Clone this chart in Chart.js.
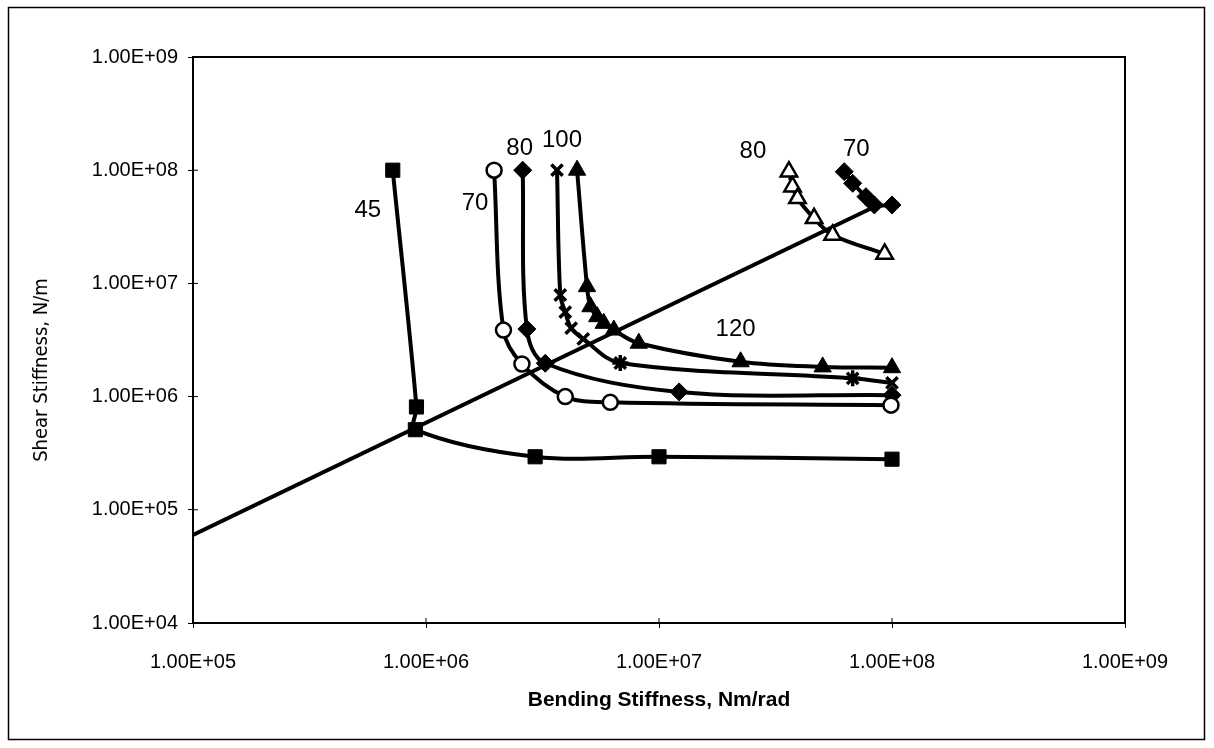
<!DOCTYPE html>
<html>
<head>
<meta charset="utf-8">
<script src="https://cdn.jsdelivr.net/npm/chart.js@4"></script>
<style>
  html, body { margin: 0; padding: 0; background: #fff; }
</style>
</head>
<body>
<canvas id="chart" width="1214" height="748"></canvas>
<script>
// tick values and labels
const xTicks = [1e5, 1e6, 1e7, 1e8, 1e9];
const xTickLabels = ['1.00E+05', '1.00E+06', '1.00E+07', '1.00E+08', '1.00E+09'];
const yTicks = [1e4, 1e5, 1e6, 1e7, 1e8, 1e9];
const yTickLabels = ['1.00E+04', '1.00E+05', '1.00E+06', '1.00E+07', '1.00E+08', '1.00E+09'];

// curve labels
const seriesNames = ['45', '70', '80', '100', '120', '80', '70'];

// 45 - filled squares
const s45X = [7.2e5, 9.1e5, 9.0e5, 2.94e6, 1.0e7, 1.0e8];
const s45Y = [1.0e8, 8.1e5, 5.1e5, 2.94e5, 2.94e5, 2.8e5];

// 70 - open circles
const s70X = [1.96e6, 2.15e6, 2.58e6, 3.96e6, 6.18e6, 9.9e7];
const s70Y = [1.0e8, 3.87e6, 1.94e6, 1.0e6, 8.9e5, 8.4e5];

// 80 - filled diamonds
const s80X = [2.6e6, 2.71e6, 3.25e6, 1.22e7, 1.0e8];
const s80Y = [1.0e8, 3.95e6, 1.97e6, 1.1e6, 1.03e6];

// 100 - crosses / asterisks
const s100X = [3.65e6, 3.77e6, 3.96e6, 4.2e6, 4.73e6, 6.82e6, 6.78e7, 1.0e8];
const s100Y = [1.0e8, 7.9e6, 5.58e6, 4.03e6, 3.23e6, 1.98e6, 1.45e6, 1.32e6];
const s100Marks = ['crossRot', 'crossRot', 'crossRot', 'crossRot', 'crossRot', 'star', 'star', 'crossRot'];

// 120 - filled triangles
const s120X = [4.45e6, 4.91e6, 5.08e6, 5.43e6, 5.79e6, 6.4e6, 8.19e6, 2.24e7, 5.04e7, 1.0e8];
const s120Y = [1.0e8, 9.36e6, 6.22e6, 5.08e6, 4.44e6, 3.87e6, 2.96e6, 2.03e6, 1.83e6, 1.8e6];

// 80 (right group) - open triangles
const r80X = [3.61e7, 3.74e7, 3.93e7, 4.63e7, 5.56e7, 9.3e7];
const r80Y = [9.7e7, 7.15e7, 5.65e7, 3.76e7, 2.68e7, 1.82e7];

// 70 (right group) - filled diamonds
const r70X = [6.24e7, 6.78e7, 7.73e7, 8.4e7, 1.0e8];
const r70Y = [9.7e7, 7.66e7, 5.84e7, 4.93e7, 4.93e7];

// straight reference line
const diagX = [1.0e5, 8.5e7];
const diagY = [6.0e4, 4.8e7];

const pts = (xs, ys) => xs.map((x, i) => ({ x, y: ys[i] }));

function curve(label, xs, ys, style, filled, radius) {
  return {
    label,
    data: pts(xs, ys),
    showLine: true,
    tension: 0.35,
    borderColor: '#000',
    borderWidth: 4,
    pointStyle: style,
    pointRadius: radius,
    pointBorderColor: '#000',
    pointBackgroundColor: filled ? '#000' : '#fff',
    pointBorderWidth: filled ? 1 : 2.5,
  };
}

const datasets = [
  curve(seriesNames[0], s45X, s45Y, 'rect', true, 10),
  curve(seriesNames[1], s70X, s70Y, 'circle', false, 7.5),
  curve(seriesNames[2], s80X, s80Y, 'rectRot', true, 9),
  Object.assign(curve(seriesNames[3], s100X, s100Y, s100Marks, false, 8), { pointBorderWidth: 3.5 }),
  curve(seriesNames[4], s120X, s120Y, 'triangle', true, 10),
  curve(seriesNames[5], r80X, r80Y, 'triangle', false, 9.5),
  curve(seriesNames[6], r70X, r70Y, 'rectRot', true, 9),
  {
    label: 'line',
    data: pts(diagX, diagY),
    showLine: true,
    borderColor: '#000',
    borderWidth: 4,
    pointRadius: 0,
  },
];

// where each curve's number sits: [dataset, point, dx, dy]
const labelSpots = [
  [0, 0, -25, 40],
  [1, 0, -19, 33],
  [2, 0, -3, -22],
  [3, 0, 5, -30],
  [4, 7, -5, -32],
  [5, 0, -36, -20],
  [6, 0, 12, -22],
];

const decor = {
  id: 'decor',
  beforeDraw(chart) {
    const { ctx } = chart;
    ctx.save();
    ctx.fillStyle = '#fff';
    ctx.fillRect(0, 0, chart.width, chart.height);
    ctx.strokeStyle = '#000';
    ctx.lineWidth = 1.5;
    ctx.strokeRect(8.5, 7.5, 1196, 732);
    ctx.restore();
  },
  afterDatasetsDraw(chart) {
    const { ctx } = chart;
    ctx.save();
    ctx.fillStyle = '#000';
    ctx.font = '24px "Liberation Sans", Arial, sans-serif';
    ctx.textAlign = 'center';
    ctx.textBaseline = 'middle';
    labelSpots.forEach(([di, pi, dx, dy]) => {
      const el = chart.getDatasetMeta(di).data[pi];
      ctx.fillText(chart.data.datasets[di].label, el.x + dx, el.y + dy);
    });
    ctx.restore();
  },
  afterDraw(chart) {
    const { ctx, chartArea: a, scales } = chart;
    ctx.save();
    ctx.strokeStyle = '#000';
    ctx.lineWidth = 2;
    ctx.strokeRect(a.left, a.top, a.right - a.left, a.bottom - a.top);
    // inner half of the tick marks
    ctx.lineWidth = 1;
    xTicks.forEach((v) => {
      const x = scales.x.getPixelForValue(v);
      ctx.beginPath(); ctx.moveTo(x, a.bottom); ctx.lineTo(x, a.bottom - 5); ctx.stroke();
    });
    yTicks.forEach((v) => {
      const y = scales.y.getPixelForValue(v);
      ctx.beginPath(); ctx.moveTo(a.left, y); ctx.lineTo(a.left + 5, y); ctx.stroke();
    });
    // y axis title
    ctx.translate(42, 370);
    ctx.rotate(-Math.PI / 2);
    ctx.font = '20px "Liberation Sans Narrow", "DejaVu Sans Condensed", sans-serif';
    ctx.textAlign = 'center';
    ctx.textBaseline = 'middle';
    ctx.fillStyle = '#000';
    ctx.fillText('Shear Stiffness, N/m', 0, 0);
    ctx.restore();
  },
};

new Chart(document.getElementById('chart'), {
  type: 'scatter',
  data: { datasets },
  plugins: [decor],
  options: {
    responsive: false,
    devicePixelRatio: 1,
    animation: false,
    layout: { padding: { left: 0, right: 89, top: 57, bottom: 0 } },
    plugins: { legend: { display: false }, tooltip: { enabled: false } },
    scales: {
      x: {
        type: 'logarithmic',
        min: 1e5,
        max: 1e9,
        afterBuildTicks: (s) => { s.ticks = xTicks.map((value) => ({ value })); },
        afterFit: (s) => { s.height = 125; },
        grid: { drawOnChartArea: false, tickLength: 5, color: '#000', lineWidth: 1 },
        border: { display: true, color: '#000', width: 2 },
        ticks: {
          color: '#000',
          font: { family: '"Liberation Sans", Arial, sans-serif', size: 20 },
          padding: 22,
          maxRotation: 0,
          callback: (v, i) => xTickLabels[i],
        },
        title: {
          display: true,
          text: 'Bending Stiffness, Nm/rad',
          color: '#000',
          font: { family: '"Liberation Sans", Arial, sans-serif', size: 21, weight: 'bold' },
          padding: { top: 0, bottom: 35 },
        },
      },
      y: {
        type: 'logarithmic',
        min: 1e4,
        max: 1e9,
        afterBuildTicks: (s) => { s.ticks = yTicks.map((value) => ({ value })); },
        afterFit: (s) => { s.width = 193; },
        grid: { drawOnChartArea: false, tickLength: 5, color: '#000', lineWidth: 1 },
        border: { display: true, color: '#000', width: 2 },
        ticks: {
          color: '#000',
          font: { family: '"Liberation Sans", Arial, sans-serif', size: 20 },
          padding: 10,
          callback: (v, i) => yTickLabels[i],
        },
      },
    },
  },
});
</script>
</body>
</html>
